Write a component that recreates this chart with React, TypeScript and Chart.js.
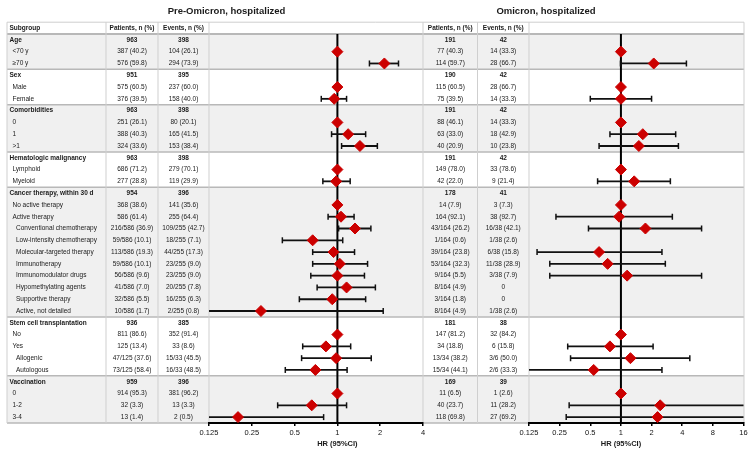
import React, { useEffect, useRef } from "react";
import { Chart, registerables } from "chart.js";

Chart.register(...registerables);

const FONT = "'Liberation Sans', Arial, Helvetica, sans-serif";

// ---------- DATA ----------
const subgroups = [
  "Age", "<70 y", "≥70 y",
  "Sex", "Male", "Female",
  "Comorbidities", "0", "1", ">1",
  "Hematologic malignancy", "Lymphoid", "Myeloid",
  "Cancer therapy, within 30 d", "No active therapy", "Active therapy",
  "Conventional chemotherapy", "Low-intensity chemotherapy", "Molecular-targeted therapy",
  "Immunotherapy", "Immunomodulator drugs", "Hypomethylating agents", "Supportive therapy",
  "Active, not detailed",
  "Stem cell transplantation", "No", "Yes", "Allogenic", "Autologous",
  "Vaccination", "0", "1-2", "3-4",
];
const indentLevels = [
  0, 1, 1,
  0, 1, 1,
  0, 1, 1, 1,
  0, 1, 1,
  0, 1, 1, 2, 2, 2, 2, 2, 2, 2, 2,
  0, 1, 1, 2, 2,
  0, 1, 1, 1,
];
const groupStarts = [0, 3, 6, 10, 13, 24, 29];
const columnHeaders = ["Subgroup", "Patients, n (%)", "Events, n (%)"];

const preTitle = "Pre-Omicron, hospitalized";
const omiTitle = "Omicron, hospitalized";
const axisTitle = "HR (95%CI)";

const prePatients = [
  "963", "387 (40.2)", "576 (59.8)",
  "951", "575 (60.5)", "376 (39.5)",
  "963", "251 (26.1)", "388 (40.3)", "324 (33.6)",
  "963", "686 (71.2)", "277 (28.8)",
  "954", "368 (38.6)", "586 (61.4)", "216/586 (36.9)", "59/586 (10.1)", "113/586 (19.3)",
  "59/586 (10.1)", "56/586 (9.6)", "41/586 (7.0)", "32/586 (5.5)", "10/586 (1.7)",
  "936", "811 (86.6)", "125 (13.4)", "47/125 (37.6)", "73/125 (58.4)",
  "959", "914 (95.3)", "32 (3.3)", "13 (1.4)",
];
const preEvents = [
  "398", "104 (26.1)", "294 (73.9)",
  "395", "237 (60.0)", "158 (40.0)",
  "398", "80 (20.1)", "165 (41.5)", "153 (38.4)",
  "398", "279 (70.1)", "119 (29.9)",
  "396", "141 (35.6)", "255 (64.4)", "109/255 (42.7)", "18/255 (7.1)", "44/255 (17.3)",
  "23/255 (9.0)", "23/255 (9.0)", "20/255 (7.8)", "16/255 (6.3)", "2/255 (0.8)",
  "385", "352 (91.4)", "33 (8.6)", "15/33 (45.5)", "16/33 (48.5)",
  "396", "381 (96.2)", "13 (3.3)", "2 (0.5)",
];
const omiPatients = [
  "191", "77 (40.3)", "114 (59.7)",
  "190", "115 (60.5)", "75 (39.5)",
  "191", "88 (46.1)", "63 (33.0)", "40 (20.9)",
  "191", "149 (78.0)", "42 (22.0)",
  "178", "14 (7.9)", "164 (92.1)", "43/164 (26.2)", "1/164 (0.6)", "39/164 (23.8)",
  "53/164 (32.3)", "9/164 (5.5)", "8/164 (4.9)", "3/164 (1.8)", "8/164 (4.9)",
  "181", "147 (81.2)", "34 (18.8)", "13/34 (38.2)", "15/34 (44.1)",
  "169", "11 (6.5)", "40 (23.7)", "118 (69.8)",
];
const omiEvents = [
  "42", "14 (33.3)", "28 (66.7)",
  "42", "28 (66.7)", "14 (33.3)",
  "42", "14 (33.3)", "18 (42.9)", "10 (23.8)",
  "42", "33 (78.6)", "9 (21.4)",
  "41", "3 (7.3)", "38 (92.7)", "16/38 (42.1)", "1/38 (2.6)", "6/38 (15.8)",
  "11/38 (28.9)", "3/38 (7.9)", "0", "0", "1/38 (2.6)",
  "38", "32 (84.2)", "6 (15.8)", "3/6 (50.0)", "2/6 (33.3)",
  "39", "1 (2.6)", "11 (28.2)", "27 (69.2)",
];

// Hazard ratios (null = no estimate for the row)
const preHR = [
  null, 1, 2.14,
  null, 1, 0.95,
  null, 1, 1.19, 1.44,
  null, 1, 0.98,
  null, 1, 1.06, 1.33, 0.67, 0.94, 1.04, 1.0, 1.16, 0.92, 0.29,
  null, 1, 0.83, 0.98, 0.70,
  null, 1, 0.66, 0.20,
];
const preLow = [
  null, null, 1.68,
  null, null, 0.77,
  null, null, 0.91, 1.07,
  null, null, 0.79,
  null, null, 0.86, 1.02, 0.41, 0.67, 0.67, 0.65, 0.72, 0.54, 0.1,
  null, null, 0.57, 0.56, 0.43,
  null, null, 0.38, 0.1,
];
const preHigh = [
  null, null, 2.69,
  null, null, 1.16,
  null, null, 1.58, 1.91,
  null, null, 1.23,
  null, null, 1.31, 1.72, 1.09, 1.32, 1.63, 1.55, 1.85, 1.58, 2.1,
  null, null, 1.24, 1.73, 1.17,
  null, null, 1.16, 0.80,
];
const omiHR = [
  null, 1, 2.1,
  null, 1, 1.0,
  null, 1, 1.64, 1.5,
  null, 1, 1.35,
  null, 1, 0.96, 1.74, null, 0.61, 0.74, 1.15, null, null, null,
  null, 1, 0.78, 1.24, 0.54,
  null, 1, 2.43, 2.29,
];
const omiLow = [
  null, null, 0.99,
  null, null, 0.5,
  null, null, 0.78, 0.61,
  null, null, 0.59,
  null, null, 0.23, 0.48, null, 0.15, 0.2, 0.2, null, null, null,
  null, null, 0.3, 0.32, 0.1,
  null, null, 0.31, 0.29,
];
const omiHigh = [
  null, null, 4.4,
  null, null, 2.0,
  null, null, 3.45, 3.67,
  null, null, 3.06,
  null, null, 3.2, 6.2, null, 2.53, 2.73, 6.2, null, null, null,
  null, null, 2.07, 4.75, 2.53,
  null, null, 20, 20,
];
const preTicks = [0.125, 0.25, 0.5, 1, 2, 4];
const omiTicks = [0.125, 0.25, 0.5, 1, 2, 4, 8, 16];

// ---------- LAYOUT ----------
const W = 750;
const H = 457;
const TABLE_L = 7;
const SUB_R = 106;
const PAT_R = 158;
const PLOT1_L = 209;
const PLOT1_R = 423;
const PAT2_R = 477.5;
const PLOT2_L = 529;
const PLOT2_R = 744;
const BODY_TOP = 34;
const AXIS_H = 34;

const GRAY_BAND = "#f0f0f0";
const LINE = "#bcbcbc";
const TEXT = "#1a1a1a";
const RED = "#cc0000";

function font(size: number, bold = false) {
  return `${bold ? "bold " : ""}${size}px ${FONT}`;
}

const tablePlugin = {
  id: "forestTable",
  beforeDraw(chart: any) {
    const { ctx } = chart;
    const y = chart.scales.y;
    const n = subgroups.length;
    const cy = (i: number) => y.getPixelForValue(i);
    const rowH = Math.abs(cy(1) - cy(0));
    const rowTop = (i: number) => cy(i) - rowH / 2;
    const rowBot = (i: number) => cy(i) + rowH / 2;
    const headerBottom = rowTop(0);
    const headerTop = headerBottom - rowH;
    const bodyBottom = rowBot(n - 1);

    ctx.save();
    ctx.fillStyle = "#fff";
    ctx.fillRect(0, 0, W, H);

    // group bands
    groupStarts.forEach((s, g) => {
      const e = (g + 1 < groupStarts.length ? groupStarts[g + 1] : n) - 1;
      ctx.fillStyle = g % 2 === 0 ? GRAY_BAND : "#ffffff";
      ctx.fillRect(TABLE_L, rowTop(s), PLOT2_R - TABLE_L, rowBot(e) - rowTop(s));
    });

    // horizontal lines
    const hline = (yy: number, x0: number, x1: number, w: number, c = LINE) => {
      ctx.strokeStyle = c;
      ctx.lineWidth = w;
      ctx.beginPath();
      ctx.moveTo(x0, yy);
      ctx.lineTo(x1, yy);
      ctx.stroke();
    };
    hline(headerTop, TABLE_L, PLOT2_R, 1, "#cfcfcf");
    hline(headerBottom, TABLE_L, PLOT2_R, 2, "#b8b8b8");
    groupStarts.slice(1).forEach((s) => hline(rowTop(s), TABLE_L, PLOT2_R, 1.5, "#b8b8b8"));
    hline(bodyBottom, TABLE_L, PLOT2_R, 1.5, "#b8b8b8");

    // vertical lines
    [TABLE_L, SUB_R, PAT_R, PLOT1_L, PLOT1_R, PAT2_R, PLOT2_L, PLOT2_R].forEach((xx) => {
      ctx.strokeStyle = "#cfcfcf";
      ctx.lineWidth = 1;
      ctx.beginPath();
      ctx.moveTo(xx, headerTop);
      ctx.lineTo(xx, bodyBottom);
      ctx.stroke();
    });

    // header texts
    const hy = (headerTop + headerBottom) / 2;
    ctx.fillStyle = TEXT;
    ctx.textBaseline = "middle";
    ctx.font = font(6.5, true);
    ctx.textAlign = "left";
    ctx.fillText(columnHeaders[0], 9.5, hy);
    ctx.textAlign = "center";
    ctx.fillText(columnHeaders[1], (SUB_R + PAT_R) / 2, hy);
    ctx.fillText(columnHeaders[2], (PAT_R + PLOT1_L) / 2, hy);
    ctx.fillText(columnHeaders[1], (PLOT1_R + PAT2_R) / 2, hy);
    ctx.fillText(columnHeaders[2], (PAT2_R + PLOT2_L) / 2, hy);

    // body texts
    const indentX = [9.5, 12.5, 16];
    subgroups.forEach((label, i) => {
      const bold = indentLevels[i] === 0;
      const py = cy(i);
      ctx.font = font(6.5, bold);
      ctx.textAlign = "left";
      ctx.fillText(label, indentX[indentLevels[i]], py);
      ctx.textAlign = "center";
      ctx.fillText(prePatients[i], (SUB_R + PAT_R) / 2, py);
      ctx.fillText(preEvents[i], (PAT_R + PLOT1_L) / 2, py);
      ctx.fillText(omiPatients[i], (PLOT1_R + PAT2_R) / 2, py);
      ctx.fillText(omiEvents[i], (PAT2_R + PLOT2_L) / 2, py);
    });
    ctx.restore();
  },
};

function makeForestPlugin(low: (number | null)[], high: (number | null)[], title: string, titleX: number) {
  return {
    id: "forestCI",
    beforeDatasetsDraw(chart: any) {
      const { ctx, chartArea: ca } = chart;
      const x = chart.scales.x;
      const y = chart.scales.y;
      ctx.save();
      ctx.beginPath();
      ctx.rect(ca.left, ca.top - 2, ca.right - ca.left, ca.bottom - ca.top + 2);
      ctx.clip();
      const x1 = x.getPixelForValue(1);
      ctx.strokeStyle = "#000";
      ctx.lineWidth = 2;
      ctx.beginPath();
      ctx.moveTo(x1, ca.top);
      ctx.lineTo(x1, ca.bottom);
      ctx.stroke();
      low.forEach((lo, i) => {
        const hi = high[i];
        if (lo == null || hi == null) return;
        const py = y.getPixelForValue(i);
        const xl = x.getPixelForValue(lo);
        const xr = x.getPixelForValue(hi);
        ctx.strokeStyle = "#111";
        ctx.lineWidth = 1.8;
        ctx.beginPath();
        ctx.moveTo(xl, py);
        ctx.lineTo(xr, py);
        ctx.stroke();
        ctx.lineWidth = 1.5;
        if (lo >= x.min) {
          ctx.beginPath();
          ctx.moveTo(xl, py - 3);
          ctx.lineTo(xl, py + 3);
          ctx.stroke();
        }
        if (hi <= x.max) {
          ctx.beginPath();
          ctx.moveTo(xr, py - 3);
          ctx.lineTo(xr, py + 3);
          ctx.stroke();
        }
      });
      ctx.restore();
    },
    afterDraw(chart: any) {
      const { ctx } = chart;
      const x = chart.scales.x;
      ctx.save();
      ctx.fillStyle = TEXT;
      ctx.textAlign = "center";
      ctx.textBaseline = "middle";
      ctx.font = font(7.5, true);
      ctx.fillText(axisTitle, x.getPixelForValue(1), 444);
      ctx.font = font(9.5, true);
      ctx.fillText(title, titleX, 11);
      ctx.restore();
    },
  };
}

function makeConfig(
  hr: (number | null)[],
  low: (number | null)[],
  high: (number | null)[],
  ticks: number[],
  left: number,
  right: number,
  title: string,
  titleX: number,
  withTable: boolean
): any {
  const points = hr
    .map((v, i) => (v == null ? null : { x: v, y: i }))
    .filter((p) => p !== null);
  const plugins: any[] = [];
  if (withTable) plugins.push(tablePlugin);
  plugins.push(makeForestPlugin(low, high, title, titleX));
  return {
    type: "scatter",
    data: {
      datasets: [
        {
          data: points,
          pointStyle: "rectRot",
          pointRadius: 5.5,
          pointHoverRadius: 5.5,
          backgroundColor: RED,
          borderColor: RED,
          borderWidth: 1,
        },
      ],
    },
    options: {
      animation: false,
      responsive: false,
      devicePixelRatio: 1,
      layout: { padding: { left, right: W - right, top: BODY_TOP, bottom: 0 } },
      plugins: { legend: { display: false }, tooltip: { enabled: false } },
      events: [],
      scales: {
        x: {
          type: "logarithmic",
          min: ticks[0],
          max: ticks[ticks.length - 1],
          afterBuildTicks: (scale: any) => {
            scale.ticks = ticks.map((v) => ({ value: v }));
          },
          afterFit: (scale: any) => {
            scale.height = AXIS_H;
            scale.paddingLeft = 0;
            scale.paddingRight = 0;
          },
          ticks: {
            callback: (v: any) => String(v),
            font: { size: 7.5, family: FONT },
            color: "#111",
            padding: 2,
            maxRotation: 0,
            autoSkip: false,
          },
          grid: {
            display: true,
            drawOnChartArea: false,
            drawTicks: true,
            tickLength: 3,
            color: "#000",
            lineWidth: 1.5,
          },
          border: { display: true, color: "#000", width: 2 },
        },
        y: {
          type: "linear",
          min: -0.5,
          max: subgroups.length - 0.5,
          reverse: true,
          display: false,
        },
      },
    },
    plugins,
  };
}

export default function App() {
  const leftRef = useRef<HTMLCanvasElement>(null);
  const rightRef = useRef<HTMLCanvasElement>(null);
  useEffect(() => {
    const c1 = new Chart(
      leftRef.current as HTMLCanvasElement,
      makeConfig(preHR, preLow, preHigh, preTicks, PLOT1_L, PLOT1_R, preTitle, 226.5, true)
    );
    const c2 = new Chart(
      rightRef.current as HTMLCanvasElement,
      makeConfig(omiHR, omiLow, omiHigh, omiTicks, PLOT2_L, PLOT2_R, omiTitle, 546, false)
    );
    return () => {
      c1.destroy();
      c2.destroy();
    };
  }, []);
  return (
    <div style={{ position: "fixed", left: 0, top: 0, width: W, height: H, background: "#fff" }}>
      <canvas ref={leftRef} width={W} height={H} style={{ position: "absolute", left: 0, top: 0 }} />
      <canvas ref={rightRef} width={W} height={H} style={{ position: "absolute", left: 0, top: 0 }} />
    </div>
  );
}
